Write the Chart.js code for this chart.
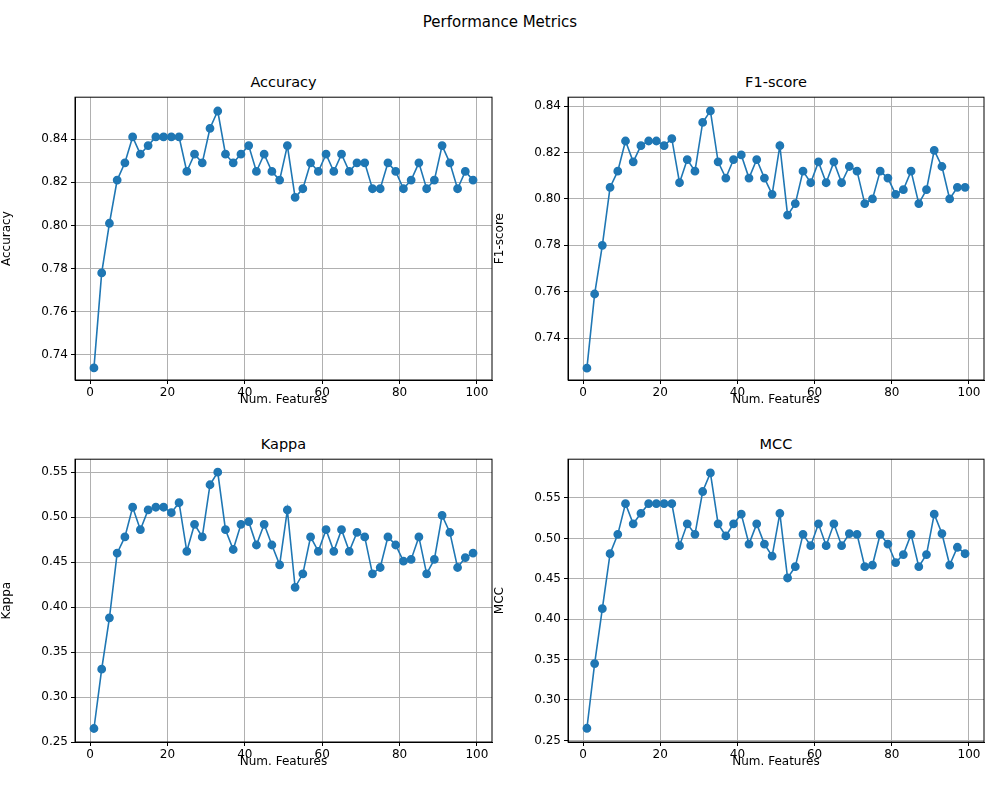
<!DOCTYPE html>
<html><head><meta charset="utf-8">
<script src="https://cdn.jsdelivr.net/npm/chart.js@4"></script>
<style>
body{margin:0;width:1000px;height:800px;background:#fff;font-family:"DejaVu Sans",sans-serif;position:relative;overflow:hidden}
.c{position:absolute}
.t{position:absolute;text-align:center;font-size:14.5px;color:#000}
</style></head><body>
<div class="t" style="left:0;width:1000px;top:13px;font-size:15px">Performance Metrics</div>
<div class="t" style="left:75px;width:417px;top:74px">Accuracy</div>
<div class="t" style="left:568px;width:416px;top:74px">F1-score</div>
<div class="t" style="left:75px;width:417px;top:436px">Kappa</div>
<div class="t" style="left:568px;width:416px;top:436px">MCC</div>
<div class="c" style="left:0;top:87px;width:504px;height:320px"><canvas id="c1"></canvas></div>
<div class="c" style="left:493px;top:87px;width:503px;height:320px"><canvas id="c2"></canvas></div>
<div class="c" style="left:0;top:449px;width:504px;height:320px"><canvas id="c3"></canvas></div>
<div class="c" style="left:493px;top:449px;width:503px;height:320px"><canvas id="c4"></canvas></div>
<script>
const numFeatures=[1,3,5,7,9,11,13,15,17,19,21,23,25,27,29,31,33,35,37,39,41,43,45,47,49,51,53,55,57,59,61,63,65,67,69,71,73,75,77,79,81,83,85,87,89,91,93,95,97,99];
const accuracy=[0.734,0.778,0.801,0.821,0.829,0.841,0.833,0.837,0.841,0.841,0.841,0.841,0.825,0.833,0.829,0.845,0.853,0.833,0.829,0.833,0.837,0.825,0.833,0.825,0.821,0.837,0.813,0.817,0.829,0.825,0.833,0.825,0.833,0.825,0.829,0.829,0.817,0.817,0.829,0.825,0.817,0.821,0.829,0.817,0.821,0.837,0.829,0.817,0.825,0.821];
const f1score=[0.727,0.759,0.780,0.805,0.812,0.825,0.816,0.823,0.825,0.825,0.823,0.826,0.807,0.817,0.812,0.833,0.838,0.816,0.809,0.817,0.819,0.809,0.817,0.809,0.802,0.823,0.793,0.798,0.812,0.807,0.816,0.807,0.816,0.807,0.814,0.812,0.798,0.800,0.812,0.809,0.802,0.804,0.812,0.798,0.804,0.821,0.814,0.800,0.805,0.805];
const kappa=[0.265,0.331,0.388,0.460,0.478,0.511,0.486,0.508,0.511,0.511,0.505,0.516,0.462,0.492,0.478,0.536,0.550,0.486,0.464,0.492,0.495,0.469,0.492,0.469,0.447,0.508,0.422,0.437,0.478,0.462,0.486,0.462,0.486,0.462,0.483,0.478,0.437,0.444,0.478,0.469,0.451,0.453,0.478,0.437,0.453,0.502,0.483,0.444,0.455,0.460];
const mcc=[0.265,0.345,0.413,0.481,0.505,0.543,0.518,0.531,0.543,0.543,0.543,0.543,0.491,0.518,0.505,0.558,0.581,0.518,0.503,0.518,0.530,0.493,0.518,0.493,0.478,0.531,0.451,0.465,0.505,0.491,0.518,0.491,0.518,0.491,0.506,0.505,0.465,0.467,0.505,0.493,0.470,0.480,0.505,0.465,0.480,0.530,0.506,0.467,0.489,0.481];
const xTicks=[0,20,40,60,80,100];
const accTicks=[0.74,0.76,0.78,0.80,0.82,0.84];
const kTicks=[0.25,0.30,0.35,0.40,0.45,0.50,0.55];

const frame={id:'frame',afterDraw(ch){const a=ch.chartArea,c=ch.ctx;c.save();c.strokeStyle='#000';c.lineWidth=1;c.strokeRect(a.left,a.top,a.right-a.left,a.bottom-a.top);c.restore();}};
const font={family:'DejaVu Sans',size:12};
function make(id,label,data,ymin,ymax,yt){
  new Chart(document.getElementById(id),{type:'line',
    data:{datasets:[{data:numFeatures.map((x,i)=>({x:x,y:data[i]})),borderColor:'#1f77b4',backgroundColor:'#1f77b4',borderWidth:1.6,pointRadius:3.6,pointHoverRadius:3.6,tension:0}]},
    options:{animation:false,responsive:true,maintainAspectRatio:false,
      layout:{padding:{top:10,right:12,left:0,bottom:0}},
      plugins:{legend:{display:false},tooltip:{enabled:false}},
      scales:{
        x:{type:'linear',min:-3.9,max:103.9,afterBuildTicks:s=>{s.ticks=xTicks.map(v=>({value:v}));},afterFit:s=>{s.height=27;},
          grid:{color:'#b0b0b0',tickColor:'#000',tickLength:4},border:{color:'#000'},
          ticks:{color:'#000',font:font,padding:2,maxRotation:0,callback:v=>String(v)},
          title:{display:true,text:'Num. Features',color:'#000',font:font,padding:{top:0,bottom:0}}},
        y:{min:ymin,max:ymax,afterBuildTicks:s=>{s.ticks=yt.map(v=>({value:v}));},afterFit:s=>{s.width=75;},
          grid:{color:'#b0b0b0',tickColor:'#000',tickLength:4},border:{color:'#000'},
          ticks:{color:'#000',font:font,padding:3,callback:v=>v.toFixed(2)},
          title:{display:true,text:label,color:'#000',font:font,padding:{top:0,bottom:4}}}
      }},plugins:[frame]});
}
make('c1','Accuracy',accuracy,0.7284,0.8594,accTicks);
make('c2','F1-score',f1score,0.7219,0.8439,accTicks);
make('c3','Kappa',kappa,0.25,0.5644,kTicks);
make('c4','MCC',mcc,0.248,0.598,kTicks);
</script></body></html>
